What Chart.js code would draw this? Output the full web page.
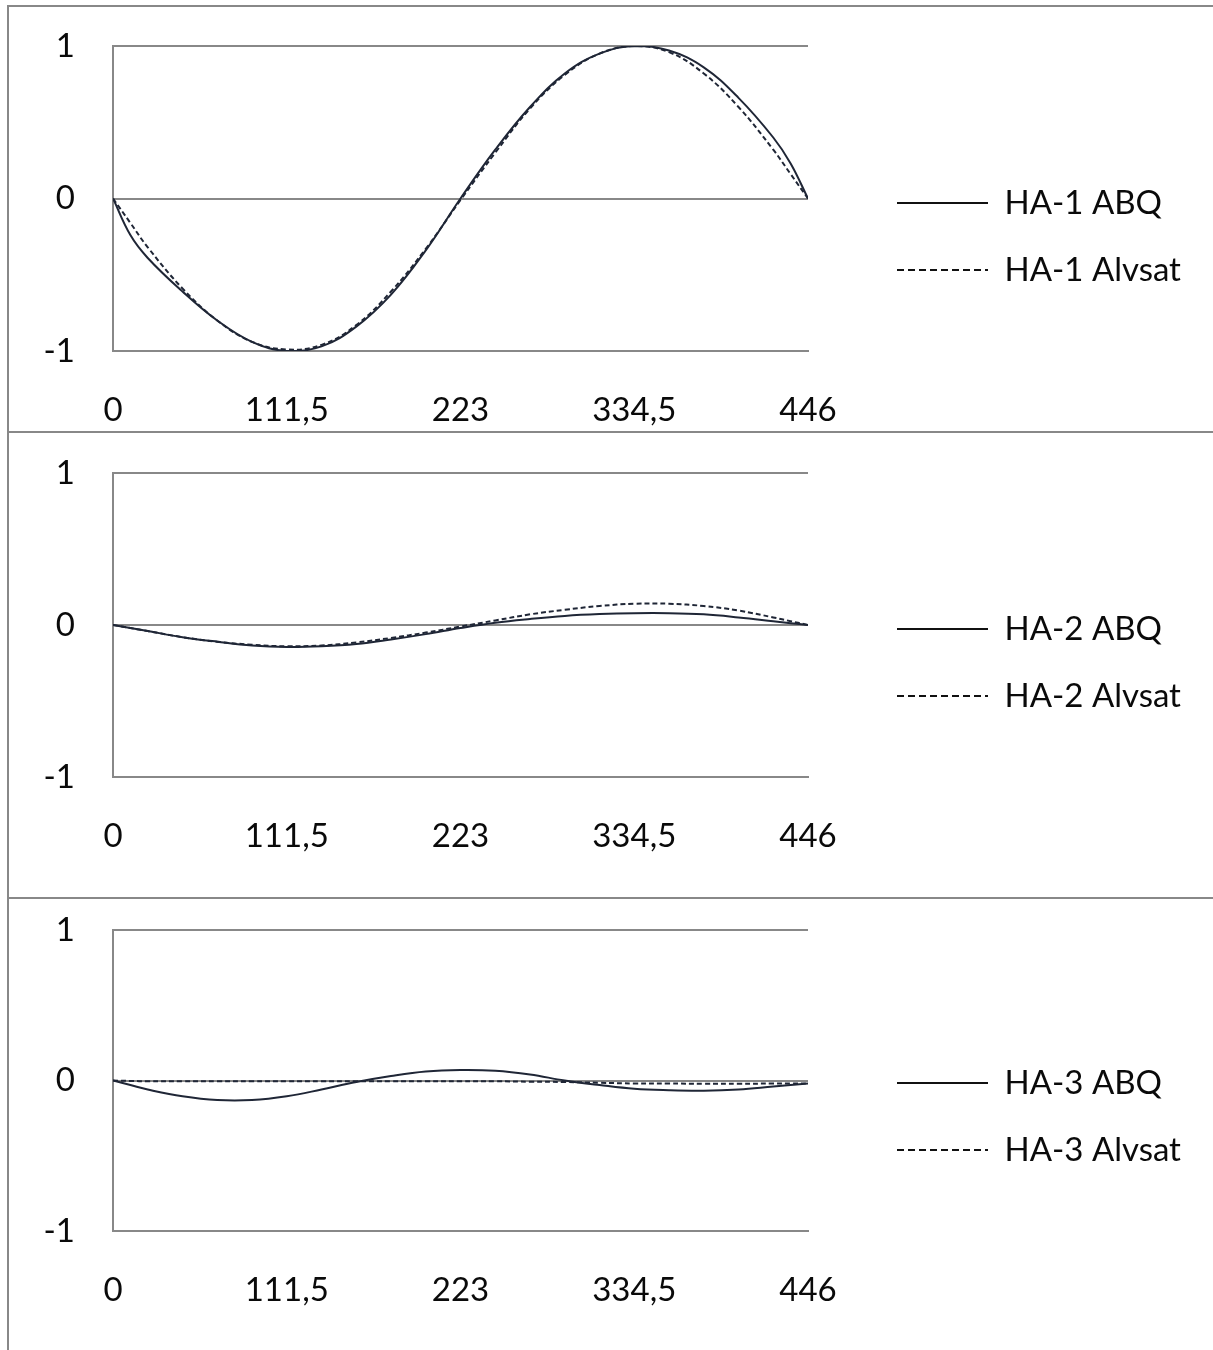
<!DOCTYPE html>
<html>
<head>
<meta charset="utf-8">
<script src="https://cdn.jsdelivr.net/npm/chart.js@4"></script>
<style>
  body { margin: 0; background: #fff; }
  #page { position: relative; width: 1213px; height: 1350px; overflow: hidden; }
  .frame { position: absolute; background: #888; }
  .panel { position: absolute; left: 0; width: 1213px; }
</style>
</head>
<body>
<div id="page">
  <div class="frame" style="left:7px;top:5px;width:1206px;height:2px"></div>
  <div class="frame" style="left:7px;top:5px;width:2px;height:1345px"></div>
  <div class="frame" style="left:7px;top:431px;width:1206px;height:2px"></div>
  <div class="frame" style="left:7px;top:897px;width:1206px;height:2px"></div>
  <div class="panel" style="top:-14px;height:445px"><canvas id="ha1"></canvas></div>
  <div class="panel" style="top:413px;height:444px"><canvas id="ha2"></canvas></div>
  <div class="panel" style="top:870px;height:441px"><canvas id="ha3"></canvas></div>
</div>
<script>
// DATA
const positions = [0, 11.15, 22.3, 44.6, 66.9, 89.2, 111.5, 133.8, 156.1, 178.4, 200.7, 223,
    245.3, 267.6, 289.9, 312.2, 334.5, 356.8, 379.1, 401.4, 423.7, 434.85, 446];
const xTicks = [0, 111.5, 223, 334.5, 446];
const yTicks = [-1, 0, 1];

const ha1Abq    = [0, -0.24, -0.39, -0.61, -0.80, -0.94, -1.0, -0.97, -0.84, -0.63, -0.34, 0.0,
    0.32, 0.60, 0.82, 0.95, 1.0, 0.97, 0.86, 0.66, 0.40, 0.23, 0];
const ha1Alvsat = [0, -0.16, -0.32, -0.59, -0.80, -0.94, -0.99, -0.96, -0.83, -0.61, -0.33, -0.01,
    0.30, 0.59, 0.81, 0.95, 1.0, 0.96, 0.82, 0.60, 0.32, 0.16, 0];

const ha2Abq    = [0, -0.02, -0.04, -0.08, -0.11, -0.135, -0.145, -0.14, -0.125, -0.095, -0.06, -0.02,
    0.015, 0.04, 0.06, 0.072, 0.078, 0.078, 0.07, 0.05, 0.025, 0.012, 0];
const ha2Alvsat = [0, -0.02, -0.04, -0.08, -0.11, -0.13, -0.14, -0.135, -0.115, -0.085, -0.05, -0.01,
    0.03, 0.07, 0.10, 0.125, 0.14, 0.14, 0.125, 0.095, 0.05, 0.025, 0];

const ha3Abq    = [0, -0.03, -0.06, -0.105, -0.13, -0.13, -0.105, -0.06, -0.01, 0.03, 0.06, 0.07,
    0.065, 0.04, 0.0, -0.03, -0.055, -0.065, -0.068, -0.06, -0.04, -0.03, -0.02];
const ha3Alvsat = [0, -0.003, -0.005, -0.005, -0.005, -0.005, -0.005, -0.005, -0.005, -0.005, -0.005, -0.005,
    -0.005, -0.008, -0.01, -0.015, -0.02, -0.02, -0.022, -0.022, -0.02, -0.02, -0.02];

const lineColor = '#1f2636';
const gridColor = '#888888';
const textColor = '#0a0a0a';
const fontFamily = 'Lato, "Open Sans", sans-serif';
const fontSize = 33;

Chart.defaults.font.family = fontFamily;
Chart.defaults.color = textColor;

// legend symbols: a solid and a dashed sample line
const makeSample = dash => {
    const c = document.createElement('canvas');
    c.width = 91;
    c.height = 4;
    const g = c.getContext('2d');
    g.strokeStyle = '#111';
    g.lineWidth = 2;
    g.setLineDash(dash);
    g.beginPath();
    g.moveTo(0, 2);
    g.lineTo(91, 2);
    g.stroke();
    return c;
};
const solidSample = makeSample([]);
const dashedSample = makeSample([7, 4]);

// right padding so the legend rows start at x = 897
const measure = document.createElement('canvas').getContext('2d');
measure.font = 'normal ' + fontSize + 'px ' + fontFamily;
const legendPadRight = text => {
    const legendWidth = 34 + 91 + fontSize / 2 + measure.measureText(text).width + 10;
    return Math.max(0, 1213 - 863 - legendWidth);
};

const toPoints = values => values.map((v, i) => ({ x: positions[i], y: v }));

// legendTitle: empty legend title whose padding pushes the legend rows down
const makePanel = (id, name, abq, alvsat, legendTitle) => {
    return new Chart(document.getElementById(id), {
        type: 'line',
        data: {
            datasets: [{
                label: name + ' ABQ',
                data: toPoints(abq),
                borderColor: lineColor,
                backgroundColor: lineColor,
                borderWidth: 2,
                pointRadius: 0,
                pointStyle: solidSample,
                tension: 0.4
            }, {
                label: name + ' Alvsat',
                data: toPoints(alvsat),
                borderColor: lineColor,
                backgroundColor: lineColor,
                borderWidth: 2,
                borderDash: [5, 3],
                pointRadius: 0,
                pointStyle: dashedSample,
                tension: 0.4
            }]
        },
        options: {
            responsive: true,
            maintainAspectRatio: false,
            animation: false,
            layout: { padding: { top: 60, left: 0, right: legendPadRight(name + ' Alvsat'), bottom: 0 } },
            plugins: {
                tooltip: { enabled: false },
                legend: {
                    position: 'right',
                    align: 'start',
                    fullSize: false,
                    maxWidth: 600,
                    title: { display: true, text: '', font: { size: 10 }, padding: { top: legendTitle, bottom: 0 } },
                    labels: {
                        usePointStyle: true,
                        pointStyleWidth: 91,
                        padding: 34,
                        color: textColor,
                        font: { size: fontSize }
                    }
                }
            },
            scales: {
                x: {
                    type: 'linear',
                    min: 0,
                    max: 446,
                    afterBuildTicks: s => { s.ticks = xTicks.map(v => ({ value: v })); },
                    afterFit: s => { s.height = 80; },
                    grid: { display: false },
                    border: { display: true, color: gridColor, width: 2 },
                    ticks: {
                        padding: 32,
                        maxRotation: 0,
                        font: { size: fontSize },
                        color: textColor,
                        callback: v => String(v).replace('.', ',')
                    }
                },
                y: {
                    min: -1,
                    max: 1,
                    afterBuildTicks: s => { s.ticks = yTicks.map(v => ({ value: v })); },
                    afterFit: s => { s.width = 113; },
                    grid: { color: gridColor, lineWidth: 2, drawTicks: false },
                    border: { display: true, color: gridColor, width: 2 },
                    ticks: { padding: 38, font: { size: fontSize }, color: textColor }
                },
                // empty spacer between the plot and the legend
                pad: {
                    type: 'linear',
                    position: 'right',
                    grid: { display: false },
                    border: { display: false },
                    ticks: { display: false },
                    afterFit: s => { s.width = 55; }
                }
            }
        }
    });
};

makePanel('ha1', 'HA-1', ha1Abq, ha1Alvsat, 94.5);
makePanel('ha2', 'HA-2', ha2Abq, ha2Alvsat, 93.5);
makePanel('ha3', 'HA-3', ha3Abq, ha3Alvsat, 90.5);
</script>
</body>
</html>
